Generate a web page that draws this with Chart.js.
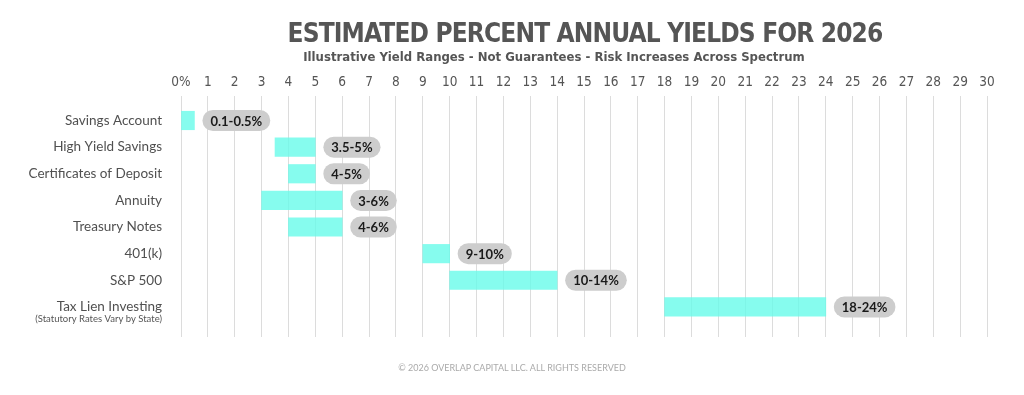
<!DOCTYPE html>
<html>
<head>
<meta charset="utf-8">
<script src="https://cdn.jsdelivr.net/npm/chart.js@4.4.1/dist/chart.umd.min.js"></script>
<style>
  html, body { margin: 0; padding: 0; background: #fff; }
  #wrap { position: relative; width: 1024px; height: 395px; overflow: hidden; }
  .txt { position: absolute; white-space: nowrap; text-align: center; transform: translateX(-50%); }
  #title { left: 585px; top: 18px; font: bold 26px "DejaVu Sans Condensed", sans-serif; color: #555; letter-spacing: -0.85px; }
  #subtitle { left: 554px; top: 49px; font: bold 13px "DejaVu Sans Condensed", sans-serif; color: #555; }
  #footer { left: 512px; top: 362px; font: 9px Lato, sans-serif; color: #aaa; }
</style>
</head>
<body>
<div id="wrap">
  <canvas id="chart" width="1024" height="395"></canvas>
  <div id="title" class="txt">ESTIMATED PERCENT ANNUAL YIELDS FOR 2026</div>
  <div id="subtitle" class="txt">Illustrative Yield Ranges - Not Guarantees - Risk Increases Across Spectrum</div>
  <div id="footer" class="txt">© 2026 OVERLAP CAPITAL LLC. ALL RIGHTS RESERVED</div>
</div>
<script>
const categories = ['Savings Account', 'High Yield Savings', 'Certificates of Deposit', 'Annuity',
    'Treasury Notes', '401(k)', 'S&P 500', 'Tax Lien Investing'];
const lowValues = [0, 3.5, 4, 3, 4, 9, 10, 18];
const highValues = [0.5, 5, 5, 6, 6, 10, 14, 24];
const valueLabels = ['0.1-0.5%', '3.5-5%', '4-5%', '3-6%', '4-6%', '9-10%', '10-14%', '18-24%'];
const subLabels = ['', '', '', '', '', '', '', '(Statutory Rates Vary by State)'];
const xTicks = [];
for (let i = 0; i <= 30; i++) xTicks.push(i);

const points = [];
for (let i = 0; i < categories.length; i++) {
    points.push({ x: [lowValues[i], highValues[i]], y: i + 1 });
}

// gray pill labels to the right of each bar, plus the small note under Tax Lien
const pillPlugin = {
    id: 'pills',
    afterDatasetsDraw(chart) {
        const ctx = chart.ctx;
        const meta = chart.getDatasetMeta(0);
        ctx.save();
        ctx.font = 'bold 13px Lato, sans-serif';
        ctx.textBaseline = 'middle';
        meta.data.forEach(function (bar, i) {
            const text = valueLabels[i];
            const w = ctx.measureText(text).width + 16;
            const h = 21;
            const x0 = bar.x + 8;
            const y0 = bar.y - h / 2;
            ctx.fillStyle = '#cdcdcd';
            ctx.beginPath();
            ctx.roundRect(x0, y0, w, h, h / 2);
            ctx.fill();
            ctx.fillStyle = '#1a1a1a';
            ctx.textAlign = 'left';
            ctx.fillText(text, x0 + 8, bar.y + 1);
        });
        const yScale = chart.scales.y;
        ctx.font = '9.5px Lato, sans-serif';
        ctx.fillStyle = '#555';
        ctx.textAlign = 'right';
        subLabels.forEach(function (s, i) {
            if (!s) return;
            ctx.fillText(s, chart.chartArea.left - 19, yScale.getPixelForValue(i + 1) + 12);
        });
        ctx.restore();
    }
};

new Chart(document.getElementById('chart'), {
    type: 'bar',
    data: {
        datasets: [{
            data: points,
            backgroundColor: 'rgba(104, 251, 234, 0.8)',
            borderWidth: 0,
            barThickness: 18.5
        }]
    },
    options: {
        indexAxis: 'y',
        responsive: false,
        animation: false,
        layout: { padding: { left: 0, top: 0, right: 37, bottom: 58 } },
        plugins: { legend: { display: false }, tooltip: { enabled: false } },
        scales: {
            x: {
                type: 'linear',
                position: 'top',
                min: 0,
                max: 30,
                afterBuildTicks: function (axis) {
                    axis.ticks = xTicks.map(v => ({ value: v }));
                },
                afterFit: function (axis) { axis.height = 96; },
                ticks: {
                    color: '#555',
                    font: { family: '"DejaVu Sans Condensed", sans-serif', size: 13.5 },
                    padding: 5,
                    maxRotation: 0,
                    autoSkip: false,
                    callback: v => v === 0 ? '0%' : String(v)
                },
                grid: { color: '#dcdcdc', lineWidth: 1, drawTicks: false },
                border: { display: false }
            },
            y: {
                type: 'linear',
                reverse: true,
                offset: false,
                min: 0.08,
                max: 9.13,
                afterBuildTicks: function (axis) {
                    axis.ticks = categories.map((c, i) => ({ value: i + 1 }));
                },
                afterFit: function (axis) { axis.width = 181; },
                ticks: {
                    color: '#505050',
                    font: { family: 'Lato, sans-serif', size: 13.5 },
                    padding: 11,
                    autoSkip: false,
                    callback: v => categories[v - 1]
                },
                grid: { display: false, offset: false },
                border: { display: false }
            }
        }
    },
    plugins: [pillPlugin]
});
</script>
</body>
</html>
